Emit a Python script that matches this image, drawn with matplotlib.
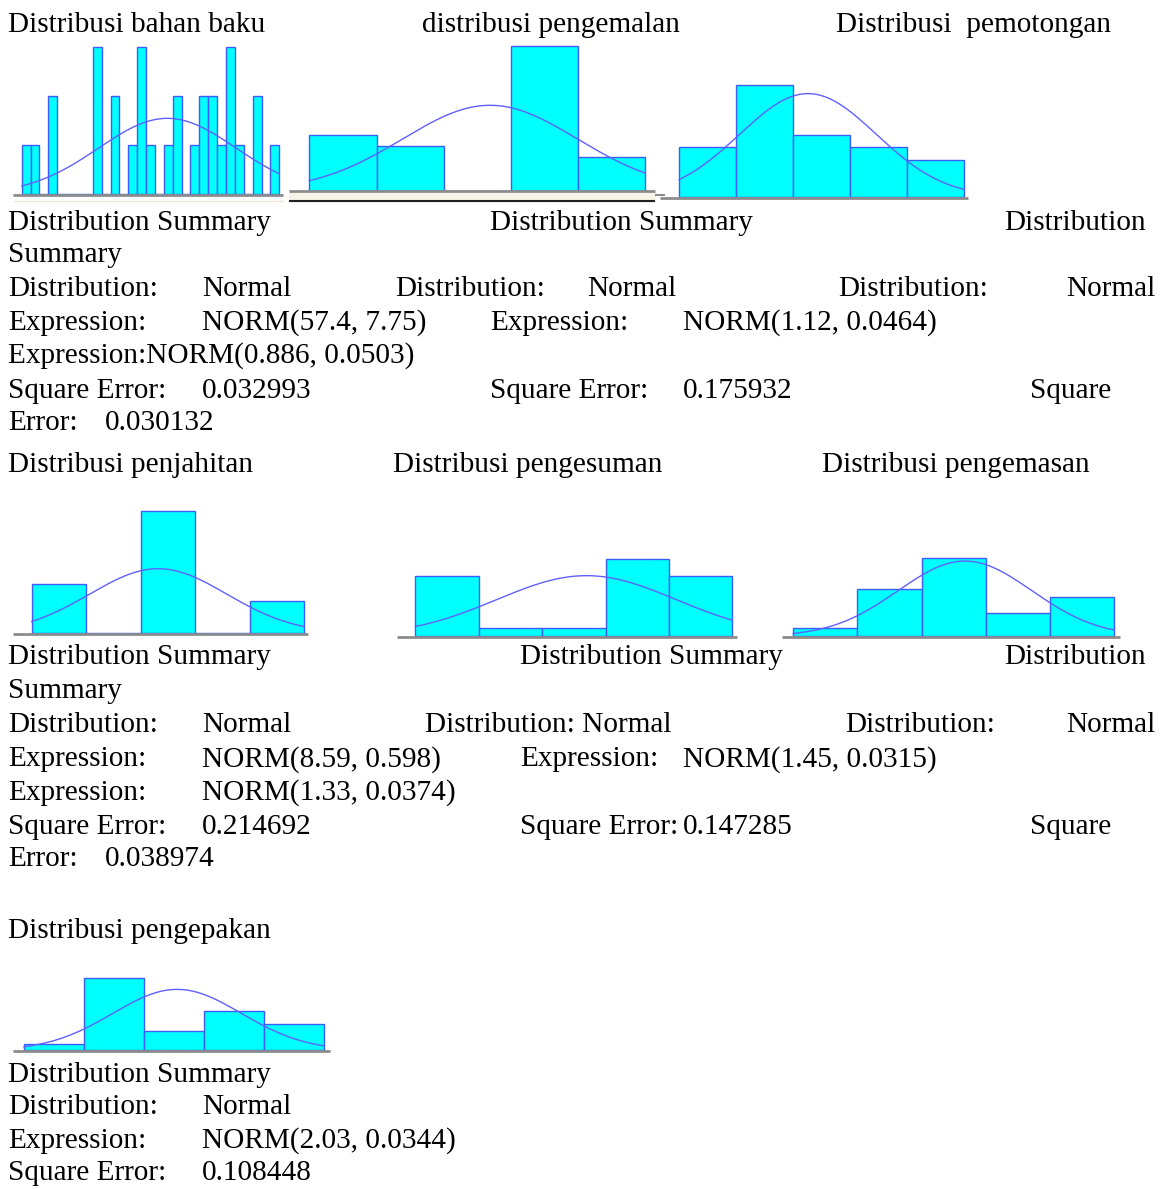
import numpy as np
import matplotlib.pyplot as plt
from matplotlib.lines import Line2D

W, H = 1167, 1189
plt.rcParams['font.family'] = ['Liberation Serif', 'DejaVu Serif']
FS = 21.1

# histogram counts per bin, first bin edge and bin width, fitted normal
bahan_baku_counts = [1, 1, 0, 2, 0, 0, 0, 0, 3, 0, 2, 0, 1, 3, 1, 0, 1, 2, 0, 1, 2, 2, 1, 3, 1, 0, 2, 0, 1]
bahan_baku_bins = (41.0, 1.0)
bahan_baku_norm = (57.4, 7.75)

pengemalan_counts = [5, 4, 0, 13, 3]
pengemalan_bins = (1.024, 0.0357)
pengemalan_norm = (1.12, 0.0464)

pemotongan_counts = [4, 9, 5, 4, 3]
pemotongan_bins = (0.791, 0.0419)
pemotongan_norm = (0.886, 0.0503)

penjahitan_counts = [6, 0, 15, 0, 4]
penjahitan_bins = (7.488, 0.475)
penjahitan_norm = (8.59, 0.598)

pengesuman_counts = [7, 1, 1, 9, 7]
pengesuman_bins = (1.3898, 0.0223)
pengesuman_norm = (1.45, 0.0315)

pengemasan_counts = [1, 6, 10, 3, 5]
pengemasan_bins = (1.234, 0.0359)
pengemasan_norm = (1.33, 0.0374)

pengepakan_counts = [1, 11, 3, 6, 4]
pengepakan_bins = (1.948, 0.0321)
pengepakan_norm = (2.03, 0.0344)

fig = plt.figure(figsize=(W / 100, H / 100), dpi=100)


def fx(x):
    return x / W


def fy(y):
    return 1 - y / H


def hline(x0, x1, y, color, lw):
    fig.add_artist(Line2D([fx(x0), fx(x1)], [fy(y), fy(y)], transform=fig.transFigure,
                          color=color, lw=lw, solid_capstyle='butt'))


def add_hist(box, counts, bins, norm, line_span):
    left, right, base, top = box
    lo, w = bins
    mu, sigma = norm
    ax = fig.add_axes([fx(left), fy(base), (right - left) / W, (base - top) / H])
    edges = lo + w * np.arange(len(counts))
    ax.bar(edges, counts, width=w, align='edge', color='#00ffff',
           edgecolor='#3d5cff', linewidth=1, clip_on=False, zorder=2)
    xs = np.linspace(lo, lo + w * len(counts), 300)
    dens = np.exp(-0.5 * ((xs - mu) / sigma) ** 2) / (sigma * np.sqrt(2 * np.pi))
    ax.plot(xs, sum(counts) * w * dens, color='#6060ff', lw=1.0, clip_on=False, zorder=3)
    ax.set_xlim(lo, lo + w * len(counts))
    ax.set_ylim(0, max(counts))
    ax.axis('off')
    hline(line_span[0], line_span[1], base + 0.5, '#8c8c8c', 2)
    return ax


add_hist((21.7, 279.3, 194, 47), bahan_baku_counts, bahan_baku_bins, bahan_baku_norm, (13, 283))
add_hist((309.3, 645.3, 190.7, 46), pengemalan_counts, pengemalan_bins, pengemalan_norm, (289, 655))
add_hist((679, 963.5, 197, 85), pemotongan_counts, pemotongan_bins, pemotongan_norm, (660, 968))
add_hist((31.7, 304.3, 633.3, 511), penjahitan_counts, penjahitan_bins, penjahitan_norm, (13, 308))
add_hist((415.3, 732.3, 636.3, 559), pengesuman_counts, pengesuman_bins, pengesuman_norm, (397, 737))
add_hist((793.3, 1114.3, 636.3, 557.7), pengemasan_counts, pengemasan_bins, pengemasan_norm, (782, 1120))
add_hist((24, 323.7, 1050.3, 978.3), pengepakan_counts, pengepakan_bins, pengepakan_norm, (13, 330))

# frame bits under the first row of pictures
fig.patches.append(plt.Rectangle((fx(289), fy(201)), (655 - 289) / W, 9 / H,
                                 transform=fig.transFigure, color='#f7f3e6', zorder=0))
hline(13, 283, 201.5, '#ece6d2', 1)
hline(289, 655, 201.5, '#202020', 1.5)
hline(655, 665, 195, '#8c8c8c', 1.5)

# text rows: (x, centre y, string)
texts = [
    (8, 22, 'Distribusi bahan baku'),
    (422, 22, 'distribusi pengemalan'),
    (836, 22, 'Distribusi  pemotongan'),

    (8, 220, 'Distribution Summary'),
    (490, 220, 'Distribution Summary'),
    (1004, 220, 'Distribution'),
    (8, 252, 'Summary'),
    (8, 287, 'Distribution:'), (202, 287, 'Normal'),
    (395, 287, 'Distribution:'), (587, 287, 'Normal'),
    (838, 287, 'Distribution:'), (1066, 287, 'Normal'),
    (8, 320, 'Expression:'), (202, 320, 'NORM(57.4, 7.75)'),
    (490, 320, 'Expression:'), (683, 320, 'NORM(1.12, 0.0464)'),
    (8, 353, 'Expression:NORM(0.886, 0.0503)'),
    (8, 388, 'Square Error:'), (202, 388, '0.032993'),
    (490, 388, 'Square Error:'), (683, 388, '0.175932'),
    (1030, 388, 'Square'),
    (8, 420, 'Error:'), (105, 420, '0.030132'),

    (8, 463, 'Distribusi penjahitan'),
    (393, 463, 'Distribusi pengesuman'),
    (822, 463, 'Distribusi pengemasan'),

    (8, 655, 'Distribution Summary'),
    (520, 655, 'Distribution Summary'),
    (1004, 655, 'Distribution'),
    (8, 688, 'Summary'),
    (8, 722, 'Distribution:'), (202, 722, 'Normal'),
    (425, 722, 'Distribution: Normal'),
    (845, 722, 'Distribution:'), (1066, 722, 'Normal'),
    (8, 757, 'Expression:'), (202, 757, 'NORM(8.59, 0.598)'),
    (520, 757, 'Expression:'), (683, 757, 'NORM(1.45, 0.0315)'),
    (8, 790, 'Expression:'), (202, 790, 'NORM(1.33, 0.0374)'),
    (8, 825, 'Square Error:'), (202, 825, '0.214692'),
    (520, 825, 'Square Error:'), (683, 825, '0.147285'),
    (1030, 825, 'Square'),
    (8, 857, 'Error:'), (105, 857, '0.038974'),

    (8, 928, 'Distribusi pengepakan'),
    (8, 1072, 'Distribution Summary'),
    (8, 1105, 'Distribution:'), (202, 1105, 'Normal'),
    (8, 1138, 'Expression:'), (202, 1138, 'NORM(2.03, 0.0344)'),
    (8, 1170, 'Square Error:'), (202, 1170, '0.108448'),
]

for x, y, s in texts:
    fig.text(fx(x), fy(y + 9.5), s, fontsize=FS, color='black', ha='left', va='baseline')

fig.savefig('out.png', dpi=100, facecolor='white')
